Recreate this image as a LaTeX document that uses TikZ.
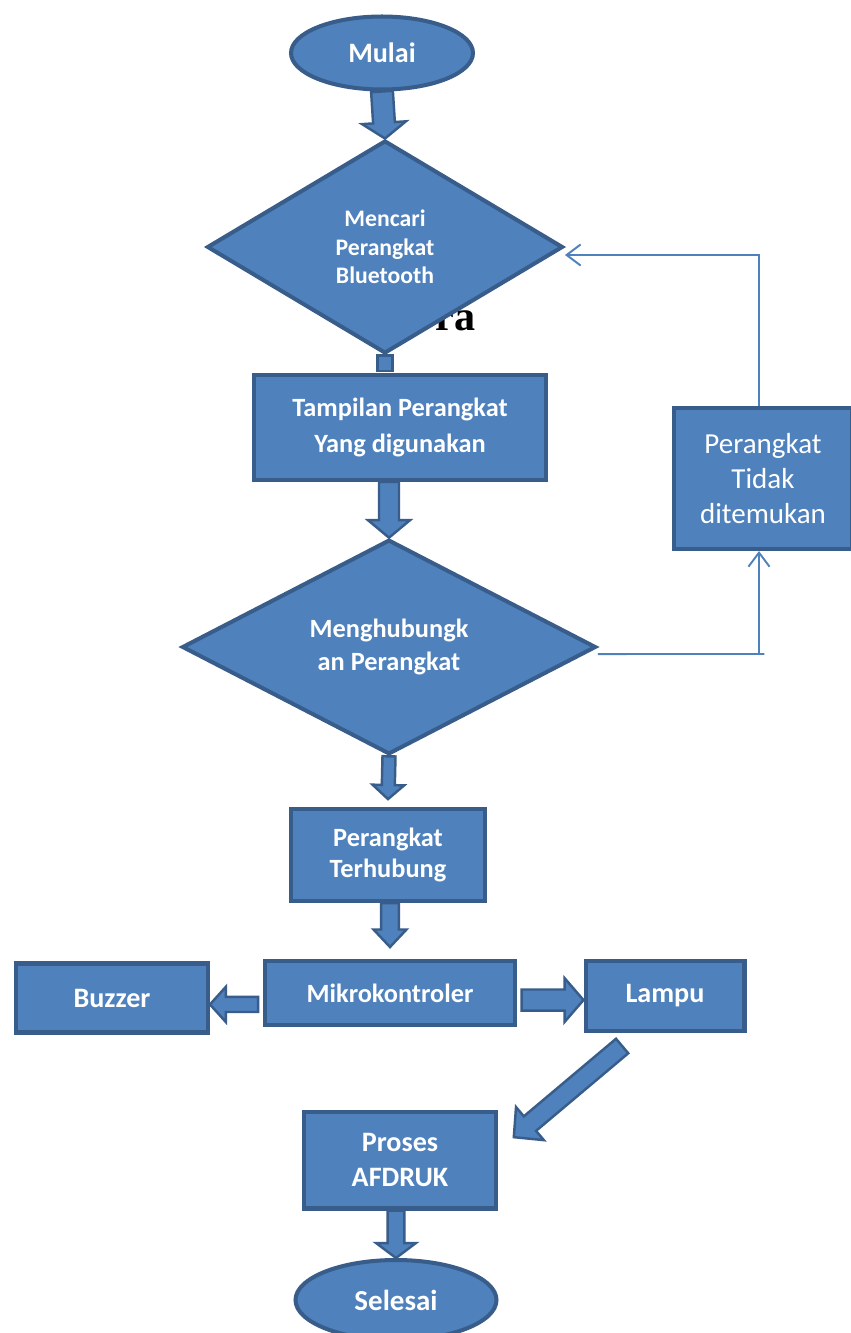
\documentclass[tikz,border=0pt]{standalone}
\usepackage{fontspec}
\setmainfont{Carlito}
\newfontfamily\serifbold{Liberation Serif}
\usetikzlibrary{positioning, shapes, calc, arrows.meta}
\definecolor{biru}{HTML}{4F81BD}
\definecolor{birutua}{HTML}{385D8A}

% panah blok: dari, ke, setengah lebar batang, setengah lebar kepala, panjang kepala
\newcommand{\panahblok}[5]{%
  \filldraw[panah] ($(#1)!#3!90:(#2)$) -- ($(#2)!#5!(#1)!#3!90:(#2)$) -- ($(#2)!#5!(#1)!#4!90:(#2)$)
    -- (#2) -- ($(#2)!#5!(#1)!#4!-90:(#2)$) -- ($(#2)!#5!(#1)!#3!-90:(#2)$) -- ($(#1)!#3!-90:(#2)$) -- cycle;}

\begin{document}
\begin{tikzpicture}[x=0.02cm, y=-0.02cm,
    blok/.style={rectangle, draw=birutua, fill=biru, line width=2.3pt, text=white, align=center, inner sep=0pt},
    terminal/.style={blok, ellipse},
    keputusan/.style={blok, diamond},
    panah/.style={draw=birutua, fill=biru, line width=1.4pt, line join=miter},
    garis/.style={draw=biru, line width=1.1pt},
    kepala/.style={-{Straight Barb[length=8pt, width=12pt]}}]
        \clip (0,0) rectangle (851,1333);
        \fill[white] (0,0) rectangle (851,1333);

        \node[font=\serifbold\bfseries\fontsize{24}{24}\selectfont, anchor=base west, inner sep=0pt] (ra) at (435,330) {ra};

        \node[terminal, minimum width=3.64cm, minimum height=1.46cm, font=\bfseries\fontsize{16}{19}\selectfont] (mulai) at (382,53) {Mulai};
        \node[keputusan, minimum width=7.12cm, minimum height=4.26cm, font=\bfseries\fontsize{13.5}{16.2}\selectfont] (mencari) at (385,247) {Mencari\\Perangkat\\Bluetooth};
        \node[blok, minimum width=5.84cm, minimum height=2.1cm, font=\bfseries\fontsize{15}{21}\selectfont] (tampil) at (400,427.5) {Tampilan Perangkat\\Yang digunakan};
        \node[keputusan, minimum width=8.28cm, minimum height=4.24cm, font=\bfseries\fontsize{15}{18.7}\selectfont] (hubung) at (389,647) {Menghubungk\\an Perangkat};
        \node[blok, minimum width=3.88cm, minimum height=1.84cm, font=\bfseries\fontsize{15}{17.6}\selectfont] (terhubung) at (388,855) {Perangkat\\Terhubung};
        \node[blok, minimum width=5.02cm, minimum height=1.28cm, font=\bfseries\fontsize{15}{18}\selectfont] (mikro) at (390,993) {Mikrokontroler};
        \node[blok, minimum width=3.84cm, minimum height=1.38cm, font=\bfseries\fontsize{16}{19}\selectfont] (buzzer) at (112,998) {Buzzer};
        \node[blok, minimum width=3.18cm, minimum height=1.4cm, font=\bfseries\fontsize{16}{19}\selectfont] (lampu) at (665,996) {Lampu};
        \node[blok, minimum width=3.84cm, minimum height=1.94cm, font=\bfseries\fontsize{16}{20}\selectfont] (proses) at (400,1160) {Proses\\AFDRUK};
        \node[terminal, minimum width=4.02cm, minimum height=1.6cm, font=\bfseries\fontsize{16.5}{19}\selectfont] (selesai) at (396,1300) {Selesai};
        \node[blok, minimum width=3.56cm, minimum height=2.82cm, font=\fontsize{16.5}{20}\selectfont] (tidak) at (763,478.5) {Perangkat\\Tidak\\ditemukan};

        % jalur kembali
        \coordinate (sudutbawah) at (759,654);
        \coordinate (sudutatas) at (759,255);
        \draw[garis] ([yshift=-4pt]hubung.east) -- ([xshift=3pt]sudutbawah);
        \draw[garis, kepala] (sudutbawah) -- (sudutbawah |- tidak.south);
        \draw[garis, kepala] (sudutbawah |- tidak.north) -- (sudutatas) -- (sudutatas -| mencari.east);

        % panah blok
        \coordinate (s1) at (mencari.south |- tampil.north);
        \filldraw[panah] ([xshift=-4.3pt]mencari.south) rectangle ([xshift=4.3pt, yshift=1pt]s1);
        \coordinate (p2) at (hubung.north |- tampil.south);
        \coordinate (p3) at ([yshift=4.5pt]terhubung.north);
        \coordinate (p4) at ([yshift=6.8pt]mikro.north);
        \coordinate (p4a) at (p4 |- terhubung.south);
        \coordinate (p5a) at ([xshift=-2.5pt, yshift=-6.5pt]mikro.west);
        \coordinate (p5b) at (buzzer.east |- p5a);
        \coordinate (p6a) at ([xshift=2.3pt, yshift=-4pt]mikro.east);
        \coordinate (p6b) at (lampu.west |- p6a);
        \coordinate (p7a) at ([xshift=-24.4pt, yshift=-7.4pt]lampu.south);
        \coordinate (p7b) at ([xshift=9pt, yshift=13pt]proses.east);
        \coordinate (p8) at (selesai.north |- proses.south);

        \panahblok{mulai.south}{mencari.north}{6.2pt}{12.5pt}{9pt}
        \panahblok{p2}{hubung.north}{5.7pt}{12pt}{10pt}
        \panahblok{hubung.south}{p3}{3.7pt}{9pt}{8pt}
        \panahblok{p4a}{p4}{5pt}{9.4pt}{10pt}
        \panahblok{p5a}{p5b}{4.3pt}{10pt}{9pt}
        \panahblok{p6a}{p6b}{6pt}{12.5pt}{10.8pt}
        \panahblok{p7a}{p7b}{5.4pt}{12.3pt}{12pt}
        \panahblok{p8}{selesai.north}{4.8pt}{11.3pt}{8.5pt}
\end{tikzpicture}
\end{document}
